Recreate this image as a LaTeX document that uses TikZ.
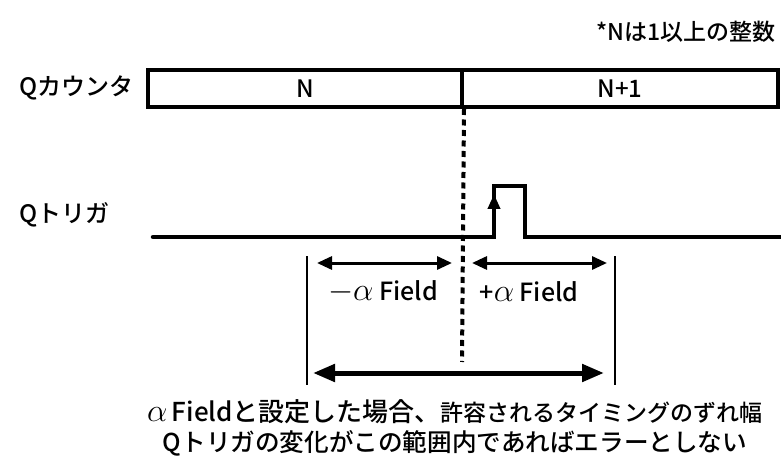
\documentclass[tikz,border=0pt]{standalone}
\usepackage{fontspec}
\usepackage{graphicx}
\setmainfont{Noto Sans CJK JP Medium}
\usetikzlibrary{arrows.meta}
\newcommand{\bigalpha}[1]{\scalebox{#1}{$\alpha$}}
\tikzset{
  lbl/.style={inner sep=0pt, font=\fontsize{24}{28}\selectfont},
  cell/.style={draw, line width=4pt, inner sep=0pt, minimum height=37pt, font=\fontsize{24}{28}\selectfont},
  dotline/.style={line width=4pt, dash pattern=on 6pt off 4.5pt},
  sig/.style={line width=4.5pt, line join=miter, line cap=round},
  bound/.style={line width=2.5pt},
  dimarrow/.style={line width=3pt, {Triangle[length=15pt,width=13pt]}-{Triangle[length=15pt,width=13pt]}},
  bigarrow/.style={line width=5pt, {Triangle[length=22pt,width=17pt]}-{Triangle[length=22pt,width=17pt]}},
}
\begin{document}
\begin{tikzpicture}[x=1pt,y=-1pt]
\useasboundingbox (0,0) rectangle (781,462);
\node[lbl, anchor=east, font=\fontsize{23}{27}\selectfont] (note) at (776,32) {*Nは1以上の整数};
\node[lbl, anchor=west] (qc) at (19,88) {Qカウンタ};
\node[cell, minimum width=314pt] (cN) at (305,88.5) {N};
\node[cell, minimum width=316pt] (cN1) at (620,88.5) {N+1};
\coordinate (dotend) at (462,362);
\draw[dotline] (cN.south east) -- (dotend);
\node[lbl, anchor=west] (qt) at (19,215) {Qトリガ};
\coordinate (t0) at (153,237);
\coordinate (rise) at (494,237);
\coordinate (riseup) at (494,186);
\coordinate (fall) at (525,186);
\coordinate (falldn) at (525,237);
\coordinate (t1) at (785,237);
\draw[sig] (t0) -- (rise) -- (riseup) -- (fall) -- (falldn) -- (t1);
\coordinate (arrtip) at (494,194);
\draw[line width=4.5pt, -{Triangle[length=15pt,width=12pt]}] (rise) -- (arrtip);
\coordinate (bl1) at (307,256);
\coordinate (bl2) at (307,385);
\coordinate (br1) at (615,256);
\coordinate (br2) at (615,385);
\draw[bound] (bl1) -- (bl2);
\draw[bound] (br1) -- (br2);
\coordinate (al1) at (317,263);
\coordinate (al2) at (452,263);
\coordinate (ar1) at (472,263);
\coordinate (ar2) at (607,263);
\draw[dimarrow] (al1) -- (al2);
\draw[dimarrow] (ar1) -- (ar2);
\node[lbl, font=\fontsize{25}{29}\selectfont] (mf) at (383,292) {\scalebox{1.3}{$-$}\bigalpha{1.3}\ Field};
\node[lbl, font=\fontsize{25}{29}\selectfont] (pf) at (529,292) {+\bigalpha{1.3}\ Field};
\coordinate (b1) at (313,373);
\coordinate (b2) at (604,373);
\draw[bigarrow] (b1) -- (b2);
\node[lbl, font=\fontsize{26}{31}\selectfont] (l1) at (455,412) {\bigalpha{1.3}\,Fieldと設定した場合、{\fontsize{23}{27}\selectfont 許容されるタイミングのずれ幅}};
\node[lbl, font=\fontsize{24.6}{29}\selectfont] (l2) at (455,443) {Qトリガの変化がこの範囲内であればエラーとしない};
\end{tikzpicture}
\end{document}
